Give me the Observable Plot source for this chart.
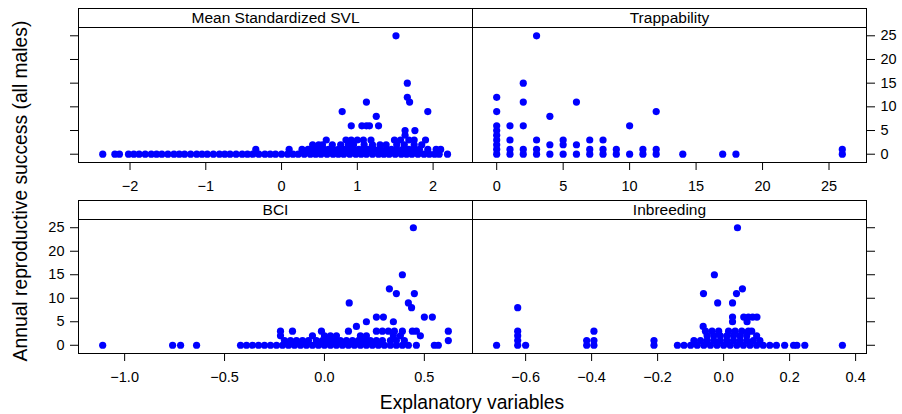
<!DOCTYPE html>
<html><head><meta charset="utf-8">
<script src="https://cdn.jsdelivr.net/npm/d3@7"></script>
<script src="https://cdn.jsdelivr.net/npm/@observablehq/plot@0.6"></script>
<style>
body{margin:0;background:#fff;}
#chart{position:relative;width:902px;height:414px;font-family:"Liberation Sans",Arial,sans-serif;color:#000;overflow:hidden;}
#chart svg{position:absolute;left:0;top:0;}
.strip{position:absolute;box-sizing:border-box;border:1px solid #000;height:20px;font-size:15.5px;line-height:18px;text-align:center;background:#fff;}
.ttl{position:absolute;white-space:nowrap;font-size:19.3px;line-height:19px;}
</style></head><body><div id="chart"></div>
<script>
const panelTitles = ["Mean Standardized SVL", "Trappability", "BCI", "Inbreeding"];
const yTitle = "Annual reproductive success (all males)";
const xTitle = "Explanatory variables";
const yTicks = [0, 5, 10, 15, 20, 25];
const svlTicks = [-2, -1, 0, 1, 2];
const trapTicks = [0, 5, 10, 15, 20, 25];
const bciTicks = [-1.0, -0.5, 0.0, 0.5];
const inbTicks = [-0.6, -0.4, -0.2, 0.0, 0.2, 0.4];

// [x, annual reproductive success]
const svl = [
  [-2.36,0],[-2.2,0],[-2.14,0],[-2.02,0],[-1.95,0],[-1.88,0],[-1.8,0],[-1.72,0],[-1.65,0],[-1.58,0],[-1.5,0],[-1.42,0],
  [-1.35,0],[-1.28,0],[-1.2,0],[-1.12,0],[-1.05,0],[-0.98,0],[-0.9,0],[-0.82,0],[-0.75,0],[-0.68,0],[-0.6,0],[-0.52,0],
  [-0.45,0],[-0.38,0],[-0.3,0],[-0.22,0],[-0.15,0],[-0.08,0],[0,0],[0.08,0],[0.15,0],[0.22,0],[0.3,0],[0.38,0],[0.45,0],
  [0.52,0],[0.6,0],[0.68,0],[0.75,0],[0.82,0],[0.9,0],[0.98,0],[1.05,0],[1.12,0],[1.2,0],[1.28,0],[1.35,0],[1.42,0],
  [1.5,0],[1.58,0],[1.65,0],[1.72,0],[1.8,0],[1.88,0],[1.95,0],[2.02,0],[2.08,0],[2.19,0],
  [-0.34,1],[0.10,1],[0.27,1],[0.35,1],[0.43,1],[0.5,1],[0.56,1],[0.62,1],[0.68,1],[0.75,1],[0.82,1],[0.88,1],[0.95,1],
  [1.02,1],[1.08,1],[1.15,1],[1.22,1],[1.3,1],[1.38,1],[1.45,1],[1.52,1],[1.6,1],[1.68,1],[1.75,1],[1.82,1],[1.93,1],[2.04,1],[2.1,1],
  [0.41,2],[0.49,2],[0.54,2],[0.67,2],[0.78,2],[0.88,2],[0.95,2],[1.09,2],[1.2,2],[1.3,2],[1.38,2],[1.52,2],[1.62,2],[1.75,2],[1.85,2],
  [0.59,3],[0.85,3],[0.92,3],[1.0,3],[1.08,3],[1.18,3],[1.49,3],[1.57,3],[1.68,3],[1.75,3],[1.9,3],
  [1.63,4],[1.63,5],[1.76,5],
  [0.92,6],[1.06,6],[1.12,6],[1.16,6],[1.28,6],
  [1.25,8],[0.8,9],[1.93,9],[1.12,11],[1.69,11],[1.66,12],[1.66,15],[1.51,25]
];
const trap = [
  [0,0],[0,1],[0,2],[0,3],[0,4],[0,5],[0,6],[0,9],[0,12],
  [1,0],[1,1],[1,3],[1,6],
  [2,0],[2,1],[2,6],[2,11],[2,15],
  [3,0],[3,1],[3,3],[3,25],
  [4,0],[4,2],[4,8],
  [5,0],[5,2],[5,3],
  [6,0],[6,2],[6,11],
  [7,0],[7,1],[7,3],
  [8,0],[8,1],[8,3],
  [9,0],[9,1],
  [10,0],[10,6],
  [11,0],[11,1],
  [12,0],[12,1],[12,9],
  [14,0],[17,0],[18,0],[26,0],[26,1]
];
const bci = [
  [-1.11,0],[-0.76,0],[-0.72,0],[-0.64,0],[-0.42,0],[-0.39,0],[-0.36,0],[-0.33,0],[-0.3,0],[-0.27,0],[-0.24,0],[-0.21,0],
  [-0.18,0],[-0.15,0],[-0.12,0],[-0.09,0],[-0.06,0],[-0.03,0],[0,0],[0.03,0],[0.06,0],[0.09,0],[0.12,0],[0.15,0],[0.18,0],
  [0.21,0],[0.24,0],[0.27,0],[0.3,0],[0.33,0],[0.36,0],[0.39,0],[0.42,0],[0.46,0],[0.55,0],[0.57,0],
  [-0.2,1],[-0.17,1],[-0.14,1],[-0.11,1],[-0.08,1],[-0.04,1],[-0.01,1],[0.02,1],[0.05,1],[0.08,1],[0.11,1],[0.14,1],
  [0.17,1],[0.2,1],[0.23,1],[0.26,1],[0.29,1],[0.33,1],[0.36,1],[0.4,1],[0.62,1],
  [-0.22,2],[-0.06,2],[0.0,2],[0.03,2],[0.06,2],[0.18,2],[0.21,2],[0.345,2],[0.38,2],[0.48,2],
  [-0.22,3],[-0.16,3],[-0.015,3],[0.12,3],[0.26,3],[0.29,3],[0.32,3],[0.35,3],[0.39,3],[0.44,3],[0.46,3],[0.62,3],
  [0.16,4],[0.21,5],[0.345,5],
  [0.26,6],[0.295,6],[0.50,6],[0.54,6],
  [0.436,8],[0.124,9],[0.42,9],[0.36,11],[0.45,11],[0.325,12],[0.39,15],[0.445,25]
];
const inb = [
  [-0.688,0],[-0.624,0],[-0.6,0],[-0.415,0],[-0.393,0],[-0.211,0],[-0.14,0],[-0.12,0],[-0.1,0],[-0.08,0],[-0.06,0],
  [-0.04,0],[-0.02,0],[0,0],[0.02,0],[0.04,0],[0.06,0],[0.08,0],[0.1,0],[0.12,0],[0.14,0],[0.16,0],[0.185,0],
  [0.212,0],[0.222,0],[0.246,0],[0.36,0],
  [-0.624,1],[-0.415,1],[-0.393,1],[-0.211,1],[-0.09,1],[-0.07,1],[-0.05,1],[-0.03,1],[-0.01,1],[0.01,1],[0.03,1],
  [0.05,1],[0.07,1],[0.09,1],[0.11,1],
  [-0.624,2],[-0.05,2],[-0.03,2],[-0.01,2],[0.01,2],[0.03,2],[0.05,2],[0.07,2],[0.1,2],
  [-0.624,3],[-0.393,3],[-0.055,3],[-0.035,3],[-0.015,3],[0.015,3],[0.035,3],[0.055,3],[0.075,3],[0.085,3],
  [-0.062,4],[0.027,5],[0.071,5],
  [0.027,6],[0.061,6],[0.075,6],[0.088,6],[0.101,6],
  [-0.624,8],[-0.018,9],[0.027,9],[-0.061,11],[0.039,11],[0.057,12],[-0.028,15],[0.042,25]
];

const FONT = '"Liberation Sans", Arial, sans-serif';
const chart = document.getElementById("chart");

function panel(points, o) {
  const data = points.map(([x, y]) => ({x, y}));
  return Plot.plot({
    width: 902, height: 414,
    marginLeft: o.left, marginRight: 902 - o.left - 394,
    marginTop: o.top, marginBottom: 414 - o.top - o.h,
    style: {background: "transparent", color: "#000", fontFamily: FONT, fontSize: "14.5px", overflow: "visible"},
    x: {domain: o.xDomain},
    y: {domain: [-1.75, 26.75]},
    marks: [
      Plot.frame({stroke: "#000"}),
      Plot.axisX({ticks: o.xTicks, tickFormat: o.xFmt, tickSize: 8, tickPadding: 10, label: null}),
      Plot.axisY({anchor: o.yAnchor, ticks: yTicks, tickFormat: o.yLabels ? (d => String(d)) : (() => ""), tickSize: 8, tickPadding: 6, label: null}),
      Plot.dot(data, {x: "x", y: "y", r: 3.6, fill: "#0000ff", stroke: null})
    ]
  });
}

const f1 = d3.format(".1f");
const panels = [
  {pts: svl, left: 78, top: 27, h: 135, xDomain: [-2.68, 2.52], xTicks: svlTicks, xFmt: d3.format("d"), yAnchor: "left", yLabels: false, title: panelTitles[0]},
  {pts: trap, left: 472, top: 27, h: 135, xDomain: [-1.82, 27.82], xTicks: trapTicks, xFmt: d3.format("d"), yAnchor: "right", yLabels: true, title: panelTitles[1]},
  {pts: bci, left: 78, top: 219, h: 134, xDomain: [-1.231, 0.741], xTicks: bciTicks, xFmt: f1, yAnchor: "left", yLabels: true, title: panelTitles[2]},
  {pts: inb, left: 472, top: 219, h: 134, xDomain: [-0.761, 0.433], xTicks: inbTicks, xFmt: f1, yAnchor: "right", yLabels: false, title: panelTitles[3]}
];

for (const p of panels) {
  chart.appendChild(panel(p.pts, p));
  const s = document.createElement("div");
  s.className = "strip";
  s.style.left = p.left + "px";
  s.style.top = (p.top - 19) + "px";
  s.style.width = "395px";
  s.textContent = p.title;
  chart.appendChild(s);
}

const yt = document.createElement("div");
yt.className = "ttl";
yt.textContent = yTitle;
yt.style.left = "20px";
yt.style.top = "191px";
yt.style.transform = "translate(-50%,-50%) rotate(-90deg)";
chart.appendChild(yt);

const xt = document.createElement("div");
xt.className = "ttl";
xt.textContent = xTitle;
xt.style.left = "472px";
xt.style.top = "393px";
xt.style.transform = "translateX(-50%)";
chart.appendChild(xt);
</script>
</body></html>
